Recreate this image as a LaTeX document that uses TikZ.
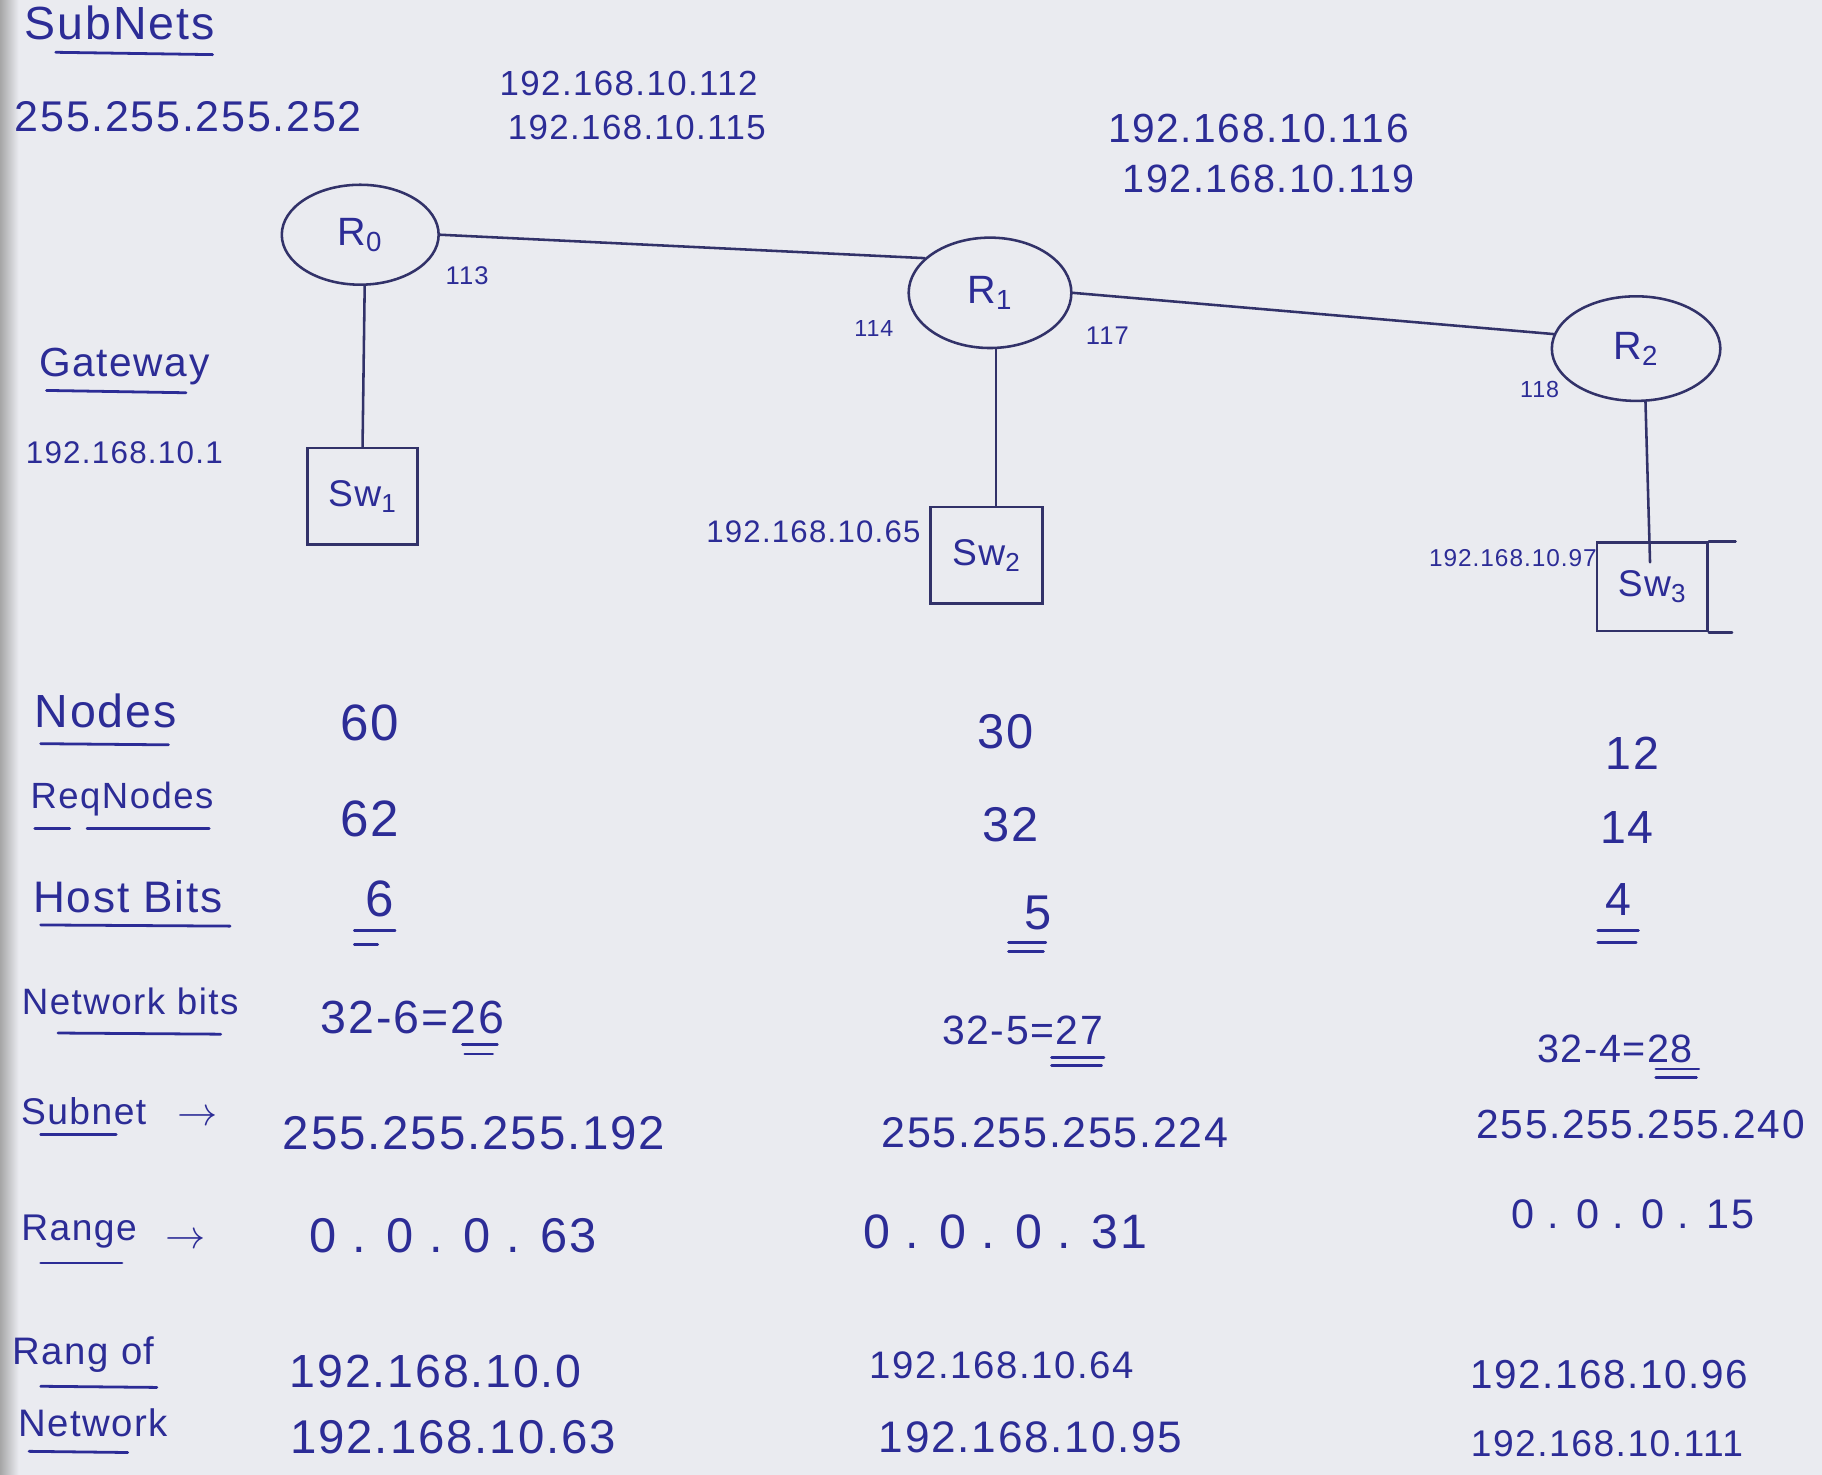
\documentclass[tikz,border=0pt]{standalone}
\usepackage{fontspec}
\setmainfont{Liberation Sans}
\newfontfamily\hw[LetterSpace=4]{Liberation Sans}
\usetikzlibrary{shapes.geometric,calc}
\definecolor{ink}{RGB}{44,44,150}
\definecolor{pen}{RGB}{50,50,105}
\definecolor{paper}{RGB}{234,235,240}
\begin{document}
\begin{tikzpicture}[x=0.5pt,y=-0.5pt,
  lbl/.style={text=ink, inner sep=0pt, font=\hw\fontsize{#1}{#1}\selectfont},
  router/.style={ellipse, draw=pen, line width=1.1pt, inner sep=0pt, text=ink,
     font=\hw\fontsize{17}{17}\selectfont},
  swbox/.style={rectangle, draw=pen, line width=1.1pt, inner sep=0pt, text=ink,
     font=\hw\fontsize{16}{16}\selectfont},
  wire/.style={draw=pen, line width=1.1pt, line cap=round},
  uline/.style={draw=ink, line width=1.2pt, line cap=round}]
\useasboundingbox (0,0) rectangle (1568,1269);
\fill[paper] (0,0) rectangle (1568,1269);
\shade[left color=black!35, right color=paper] (0,0) rectangle (16,1269);

% headings
\node[lbl=20] (subnets) at (103,20) {SubNets};
\draw[uline] (48,45) -- (183,47);
\node[lbl=18.5] (mask) at (162,100) {255.255.255.252};
\node[lbl=15] (ipa1) at (541,72) {192.168.10.112};
\node[lbl=15] (ipa2) at (548,110) {192.168.10.115};
\node[lbl=17.5] (ipb1) at (1083,111) {192.168.10.116};
\node[lbl=17] (ipb2) at (1092,154) {192.168.10.119};

% routers
\node[router, minimum width=67.5pt, minimum height=43pt] (R0) at (310,202) {R\textsubscript{0}};
\node[router, minimum width=70pt, minimum height=47.5pt] (R1) at (852,252) {R\textsubscript{1}};
\node[router, minimum width=72.5pt, minimum height=45pt] (R2) at (1408,300) {R\textsubscript{2}};

\node[lbl=11] (i113) at (402,237) {113};
\node[lbl=10] (i114) at (752,283) {114};
\node[lbl=11] (i117) at (953,289) {117};
\node[lbl=10] (i118) at (1325,335) {118};

% switches
\node[swbox, minimum width=47.5pt, minimum height=41.5pt] (Sw1) at (312,427) {Sw\textsubscript{1}};
\node[swbox, minimum width=48pt, minimum height=41.5pt] (Sw2) at (849,478) {Sw\textsubscript{2}};
\node[swbox, minimum width=47.5pt, minimum height=38pt] (Sw3) at (1422,505) {Sw\textsubscript{3}};
\draw[wire] (Sw3.north east) -- ++(23,0);
\draw[wire] (Sw3.south east) -- ++(20,0);
\coordinate (sw3in) at ($(Sw3.north)+(-2,18)$);

% connectors
\draw[wire] (R0.east) -- (R1.152);
\draw[wire] (R1.east) -- (R2.170);
\draw[wire] (R0.-85) -- (Sw1.north);
\draw[wire] (R1.-84) -- (R1.-84 |- Sw2.north);
\draw[wire] (R2.-80) -- (sw3in);

% gateway
\node[lbl=17.5] (gateway) at (107,315) {Gateway};
\draw[uline] (40,336) -- (160,338);
\node[lbl=13.5] (gw1) at (107,390) {192.168.10.1};
\node[lbl=13.4] (gw2) at (700,458) {192.168.10.65};
\node[lbl=10.5] (gw3) at (1302,480) {192.168.10.97};

% row labels
\node[lbl=20] (nodes) at (91,612) {Nodes};
\draw[uline] (35,640) -- (145,641);
\node[lbl=15.7] (req) at (105,688) {ReqNodes};
\draw[uline] (30,713) -- (60,713);
\draw[uline] (75,713) -- (180,713);
\node[lbl=19] (host) at (110,772) {Host Bits};
\draw[uline] (35,796) -- (198,797);
\node[lbl=15.8] (netbits) at (112,862) {Network bits};
\draw[uline] (50,889) -- (190,890);
\node[lbl=16] (subnet) at (72,956) {Subnet};
\draw[uline] (35,976) -- (100,976);
\node[lbl=16] (arr1) at (170,962) {$\rightarrow$};
\node[lbl=16] (range) at (68,1060) {Range};
\draw[uline] (35,1087) -- (105,1087);
\node[lbl=16] (arr2) at (160,1068) {$\rightarrow$};
\node[lbl=16.5] (rangof) at (72,1166) {Rang of};
\draw[uline] (35,1193) -- (135,1194);
\node[lbl=16.5] (network) at (80,1224) {Network};
\draw[uline] (25,1249) -- (110,1250);

% column 1
\node[lbl=22] (c1a) at (318,622) {60};
\node[lbl=22] (c1b) at (318,705) {62};
\node[lbl=22] (c1c) at (327,774) {6};
\draw[uline] (305,801) -- (340,801);
\draw[uline] (305,813) -- (325,813);
\node[lbl=20] (c1d) at (355,876) {32-6=26};
\draw[uline] (398,899) -- (428,899);
\draw[uline] (400,907) -- (424,907);
\node[lbl=20.4] (c1e) at (408,975) {255.255.255.192};
\node[lbl=21] (c1f) at (390,1063) {0 . 0 . 0 . 63};
\node[lbl=20] (c1g) at (375,1180) {192.168.10.0};
\node[lbl=20.4] (c1h) at (390,1237) {192.168.10.63};

% column 2
\node[lbl=21] (c2a) at (865,630) {30};
\node[lbl=21] (c2b) at (870,710) {32};
\node[lbl=21] (c2c) at (893,786) {5};
\draw[uline] (868,811) -- (900,811);
\draw[uline] (868,819) -- (898,819);
\node[lbl=17.6] (c2d) at (880,887) {32-5=27};
\draw[uline] (905,910) -- (950,910);
\draw[uline] (905,917) -- (948,917);
\node[lbl=18.5] (c2e) at (908,975) {255.255.255.224};
\node[lbl=20.8] (c2f) at (865,1060) {0 . 0 . 0 . 31};
\node[lbl=16.5] (c2g) at (862,1175) {192.168.10.64};
\node[lbl=19] (c2h) at (887,1237) {192.168.10.95};

% column 3
\node[lbl=20] (c3a) at (1405,648) {12};
\node[lbl=20] (c3b) at (1400,712) {14};
\node[lbl=20] (c3c) at (1393,774) {4};
\draw[uline] (1375,801) -- (1410,801);
\draw[uline] (1375,811) -- (1408,811);
\node[lbl=17] (c3d) at (1390,903) {32-4=28};
\draw[uline] (1425,920) -- (1462,920);
\draw[uline] (1425,927) -- (1460,927);
\node[lbl=17.5] (c3e) at (1412,968) {255.255.255.240};
\node[lbl=17.8] (c3f) at (1405,1045) {0 . 0 . 0 . 15};
\node[lbl=17.4] (c3g) at (1385,1183) {192.168.10.96};
\node[lbl=16] (c3h) at (1383,1242) {192.168.10.111};
\end{tikzpicture}
\end{document}
